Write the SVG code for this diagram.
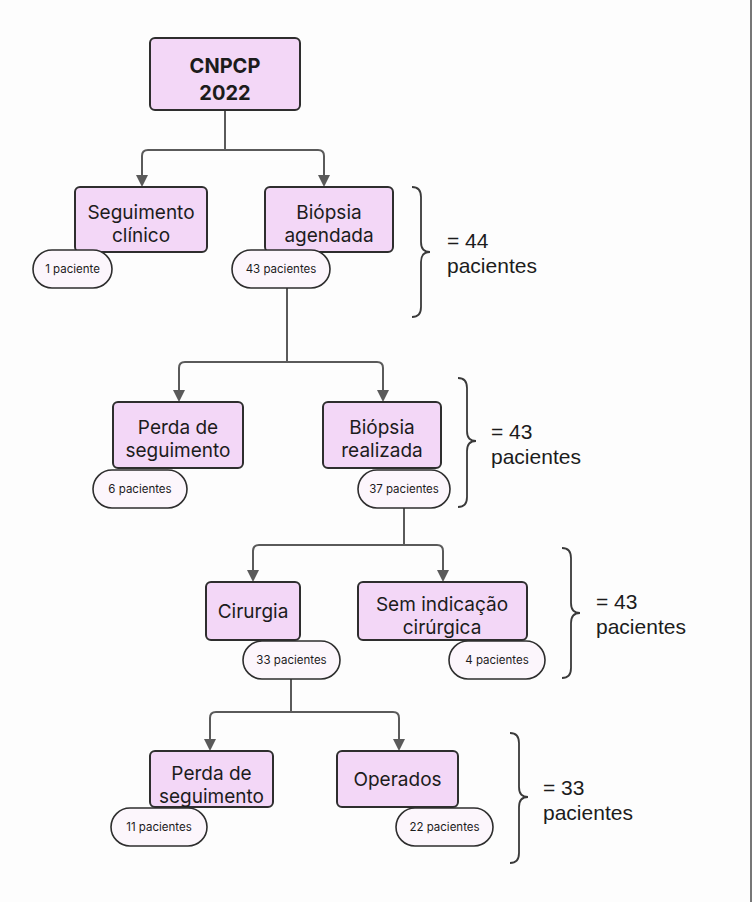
<svg xmlns="http://www.w3.org/2000/svg" width="752" height="902" viewBox="0 0 752 902">
<style>
.box{fill:#f3d7f7;stroke:#2e2e2e;stroke-width:2}
.pill{fill:#fcf6fc;stroke:#2e2e2e;stroke-width:1.6}
.t{font-family:Inter,"Liberation Sans",sans-serif;font-size:19px;fill:#1c1c1c;text-anchor:middle}
.b{font-weight:700;font-size:20px}
.p{font-family:Inter,"Liberation Sans",sans-serif;font-size:11.5px;fill:#1c1c1c;text-anchor:middle}
.c{fill:none;stroke:#5a5a5a;stroke-width:2}
.br{fill:none;stroke:#3a3a3a;stroke-width:1.8}
.s{font-family:"Liberation Sans",Arial,sans-serif;font-size:21px;fill:#1c1c1c}
</style>
<rect width="752" height="902" fill="#fdfdfd"/>
<line x1="751" y1="0" x2="751" y2="902" stroke="#777" stroke-width="2"/>
<g id="connectors">
<path class="c" d="M225,110 V150"/>
<path class="c" d="M142,176 V156 Q142,150 148,150 H318 Q324,150 324,156 V176"/>
<path d="M136,175 L148,175 L142,187 Z" fill="#5a5a5a"/>
<path d="M318,175 L330,175 L324,187 Z" fill="#5a5a5a"/>
<path class="c" d="M287,288 V362"/>
<path class="c" d="M179,391 V368 Q179,362 185,362 H377 Q383,362 383,368 V391"/>
<path d="M173,390 L185,390 L179,402 Z" fill="#5a5a5a"/>
<path d="M377,390 L389,390 L383,402 Z" fill="#5a5a5a"/>
<path class="c" d="M404,508 V545"/>
<path class="c" d="M253,571 V551 Q253,545 259,545 H437 Q443,545 443,551 V571"/>
<path d="M247,570 L259,570 L253,582 Z" fill="#5a5a5a"/>
<path d="M437,570 L449,570 L443,582 Z" fill="#5a5a5a"/>
<path class="c" d="M291,679 V712"/>
<path class="c" d="M210,740 V718 Q210,712 216,712 H393 Q399,712 399,718 V740"/>
<path d="M204,739 L216,739 L210,751 Z" fill="#5a5a5a"/>
<path d="M393,739 L405,739 L399,751 Z" fill="#5a5a5a"/>
</g>
<g id="n-cnpcp">
<rect class="box" x="150" y="38" width="150" height="72" rx="5"/>
<text class="t b" x="225" y="73">CNPCP</text>
<text class="t b" x="225" y="100">2022</text>
</g>
<g id="n-seguimento">
<rect class="box" x="75" y="187" width="132" height="65" rx="5"/>
<text class="t" x="141" y="219">Seguimento</text>
<text class="t" x="141" y="242">clínico</text>
<rect class="pill" x="33" y="250" width="79" height="38" rx="19"/>
<text class="p" x="72.5" y="273">1 paciente</text>
</g>
<g id="n-biopsia-agendada">
<rect class="box" x="265" y="187" width="128" height="65" rx="5"/>
<text class="t" x="329" y="219">Biópsia</text>
<text class="t" x="329" y="242">agendada</text>
<rect class="pill" x="232" y="250" width="98" height="38" rx="19"/>
<text class="p" x="281" y="273">43 pacientes</text>
</g>
<g id="n-perda1">
<rect class="box" x="113" y="402" width="130" height="66" rx="5"/>
<text class="t" x="178" y="434">Perda de</text>
<text class="t" x="178" y="457">seguimento</text>
<rect class="pill" x="93" y="470" width="94" height="38" rx="19"/>
<text class="p" x="140" y="493">6 pacientes</text>
</g>
<g id="n-biopsia-realizada">
<rect class="box" x="323" y="402" width="118" height="66" rx="5"/>
<text class="t" x="382" y="434">Biópsia</text>
<text class="t" x="382" y="457">realizada</text>
<rect class="pill" x="358" y="470" width="92" height="38" rx="19"/>
<text class="p" x="404" y="493">37 pacientes</text>
</g>
<g id="n-cirurgia">
<rect class="box" x="206" y="582" width="94" height="58" rx="5"/>
<text class="t" x="253" y="618">Cirurgia</text>
<rect class="pill" x="243" y="641" width="97" height="38" rx="19"/>
<text class="p" x="291.5" y="664">33 pacientes</text>
</g>
<g id="n-sem-indicacao">
<rect class="box" x="358" y="582" width="169" height="58" rx="5"/>
<text class="t" x="442" y="611">Sem indicação</text>
<text class="t" x="442" y="634">cirúrgica</text>
<rect class="pill" x="449" y="641" width="96" height="38" rx="19"/>
<text class="p" x="497" y="664">4 pacientes</text>
</g>
<g id="n-perda2">
<rect class="box" x="150" y="751" width="123" height="56" rx="5"/>
<text class="t" x="211.5" y="780">Perda de</text>
<text class="t" x="211.5" y="803">seguimento</text>
<rect class="pill" x="111" y="808" width="96" height="38" rx="19"/>
<text class="p" x="159" y="831">11 pacientes</text>
</g>
<g id="n-operados">
<rect class="box" x="337" y="751" width="121" height="56" rx="5"/>
<text class="t" x="397.5" y="786">Operados</text>
<rect class="pill" x="396" y="808" width="97" height="38" rx="19"/>
<text class="p" x="444.5" y="831">22 pacientes</text>
</g>
<g id="brace1">
<path class="br" d="M412,187 Q421,187 421,197 L421,242 Q421,252 430,252 Q421,252 421,262 L421,307 Q421,317 412,317"/>
<text class="s" x="447" y="248">= 44</text>
<text class="s" x="447" y="273">pacientes</text>
</g>
<g id="brace2">
<path class="br" d="M458,378 Q467,378 467,388 L467,431 Q467,441 476,441 Q467,441 467,451 L467,497 Q467,507 458,507"/>
<text class="s" x="491" y="439">= 43</text>
<text class="s" x="491" y="464">pacientes</text>
</g>
<g id="brace3">
<path class="br" d="M562,548 Q571,548 571,558 L571,603 Q571,613 580,613 Q571,613 571,623 L571,668 Q571,678 562,678"/>
<text class="s" x="596" y="609">= 43</text>
<text class="s" x="596" y="634">pacientes</text>
</g>
<g id="brace4">
<path class="br" d="M510,733 Q519,733 519,743 L519,787 Q519,797 528,797 Q519,797 519,807 L519,853 Q519,863 510,863"/>
<text class="s" x="543" y="795">= 33</text>
<text class="s" x="543" y="820">pacientes</text>
</g>
</svg>
